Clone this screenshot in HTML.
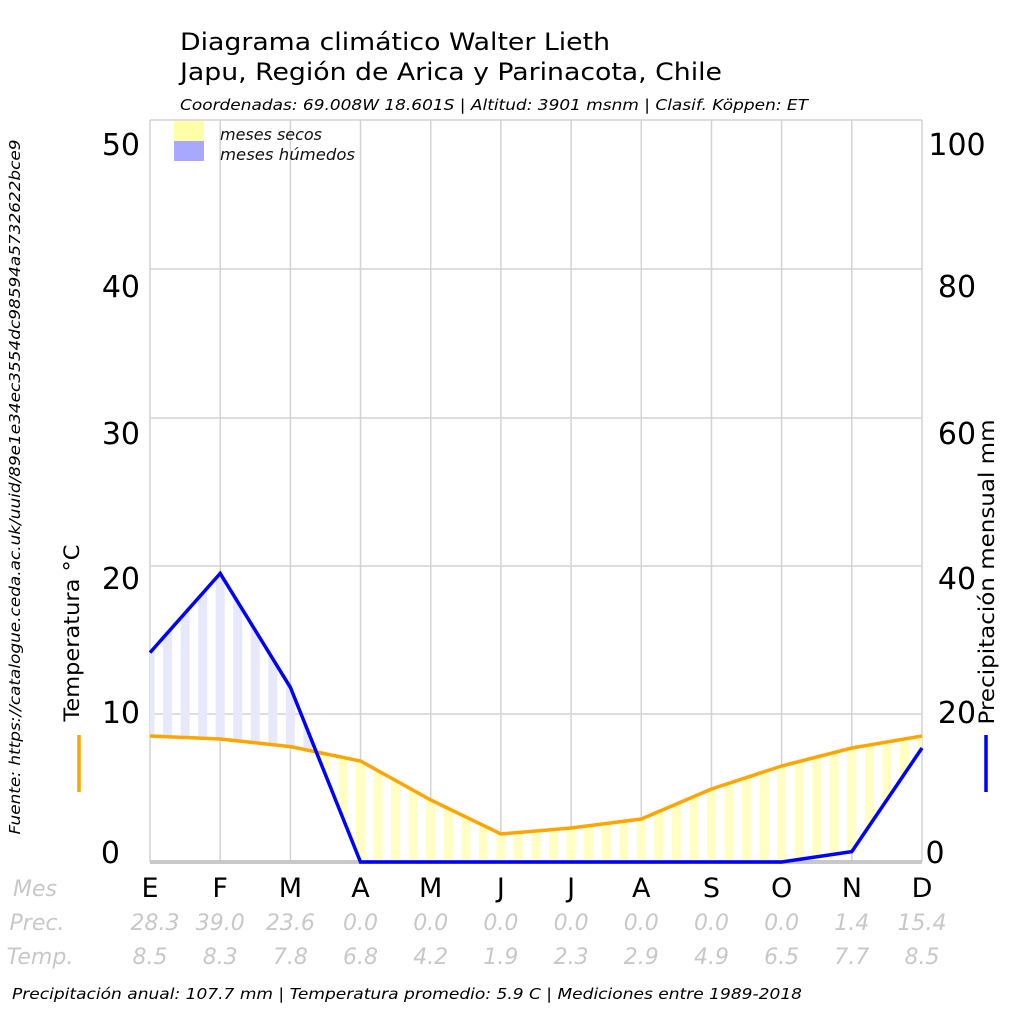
<!DOCTYPE html><html><head><meta charset="utf-8"><style>
body{margin:0;background:#fff}
svg text{font-family:"DejaVu Sans","Liberation Sans",sans-serif}
</style></head><body>
<svg width="1024" height="1024" viewBox="0 0 1024 1024" xmlns="http://www.w3.org/2000/svg">
<defs>
<pattern id="pb" patternUnits="userSpaceOnUse" x="145.5" y="0" width="17.545" height="1024"><rect width="9" height="1024" fill="#e8e8fb"/></pattern>
<pattern id="py" patternUnits="userSpaceOnUse" x="145.5" y="0" width="17.545" height="1024"><rect width="9" height="1024" fill="#ffffc4"/></pattern>
<clipPath id="above"><polygon points="150,120 150,736 220.2,739 290.4,746.6 360.5,761 430.7,800 500.9,834 571.1,828 641.3,819 711.5,789 781.6,766 851.8,748 922,736 922,120"/></clipPath>
<clipPath id="below"><polygon points="150,870 150,736 220.2,739 290.4,746.6 360.5,761 430.7,800 500.9,834 571.1,828 641.3,819 711.5,789 781.6,766 851.8,748 922,736 922,870"/></clipPath>
</defs>
<g stroke="#d3d3d3" stroke-width="1.5">
<line x1="150" y1="120" x2="922" y2="120"/><line x1="150" y1="269" x2="922" y2="269"/><line x1="150" y1="418" x2="922" y2="418"/><line x1="150" y1="566" x2="922" y2="566"/><line x1="150" y1="714" x2="922" y2="714"/>
<line x1="150" y1="120" x2="150" y2="862"/><line x1="220.2" y1="120" x2="220.2" y2="862"/><line x1="290.4" y1="120" x2="290.4" y2="862"/><line x1="360.5" y1="120" x2="360.5" y2="862"/><line x1="430.7" y1="120" x2="430.7" y2="862"/><line x1="500.9" y1="120" x2="500.9" y2="862"/><line x1="571.1" y1="120" x2="571.1" y2="862"/><line x1="641.3" y1="120" x2="641.3" y2="862"/><line x1="711.5" y1="120" x2="711.5" y2="862"/><line x1="781.6" y1="120" x2="781.6" y2="862"/><line x1="851.8" y1="120" x2="851.8" y2="862"/><line x1="922" y1="120" x2="922" y2="862"/>
</g>
<g>
<polygon points="150,652.6 220.2,573.4 290.4,687.4 360.5,862 430.7,862 500.9,862 571.1,862 641.3,862 711.5,862 781.6,862 851.8,851.6 922,748 922,736 851.8,748 781.6,766 711.5,789 641.3,819 571.1,828 500.9,834 430.7,800 360.5,761 290.4,746.6 220.2,739 150,736" fill="url(#pb)" clip-path="url(#above)"/>
<polygon points="150,652.6 220.2,573.4 290.4,687.4 360.5,862 430.7,862 500.9,862 571.1,862 641.3,862 711.5,862 781.6,862 851.8,851.6 922,748 922,736 851.8,748 781.6,766 711.5,789 641.3,819 571.1,828 500.9,834 430.7,800 360.5,761 290.4,746.6 220.2,739 150,736" fill="url(#py)" clip-path="url(#below)"/>
</g>
<line x1="150" y1="862" x2="922" y2="862" stroke="#c8c8c8" stroke-width="4"/>
<polyline points="150,736 220.2,739 290.4,746.6 360.5,761 430.7,800 500.9,834 571.1,828 641.3,819 711.5,789 781.6,766 851.8,748 922,736" fill="none" stroke="#ffa500" stroke-width="3.5"/>
<polyline points="150,652.6 220.2,573.4 290.4,687.4 360.5,862 430.7,862 500.9,862 571.1,862 641.3,862 711.5,862 781.6,862 851.8,851.6 922,748" fill="none" stroke="#0000ff" stroke-width="3.5"/>
<rect x="174" y="121" width="30" height="20" fill="#ffffa8"/>
<rect x="174" y="141" width="30" height="20" fill="#a8a8ff"/>
<g font-style="italic" font-size="16" fill="#111"><text x="220" y="140" textLength="102" lengthAdjust="spacingAndGlyphs">meses secos</text><text x="220" y="160" textLength="135" lengthAdjust="spacingAndGlyphs">meses húmedos</text></g>
<g font-size="24" fill="#000"><text x="180" y="50" textLength="430" lengthAdjust="spacingAndGlyphs">Diagrama climático Walter Lieth</text><text x="180" y="80" textLength="542" lengthAdjust="spacingAndGlyphs">Japu, Región de Arica y Parinacota, Chile</text></g>
<text x="180" y="110" font-size="15" font-style="italic" textLength="628" lengthAdjust="spacingAndGlyphs">Coordenadas: 69.008W 18.601S | Altitud: 3901 msnm | Clasif. Köppen: ET</text>
<g font-size="30" text-anchor="end" fill="#000"><text x="140" y="155">50</text><text x="140" y="297">40</text><text x="140" y="444">30</text><text x="140" y="589">20</text><text x="140" y="723">10</text><text x="120" y="863">0</text></g>
<g font-size="30" text-anchor="middle" fill="#000"><text x="957" y="155">100</text><text x="957" y="297">80</text><text x="957" y="444">60</text><text x="957" y="589">40</text><text x="957" y="723">20</text><text x="935" y="863">0</text></g>
<g font-size="27" text-anchor="middle" fill="#000"><text x="150" y="897">E</text><text x="220.2" y="897">F</text><text x="290.4" y="897">M</text><text x="360.5" y="897">A</text><text x="430.7" y="897">M</text><text x="500.9" y="897">J</text><text x="571.1" y="897">J</text><text x="641.3" y="897">A</text><text x="711.5" y="897">S</text><text x="781.6" y="897">O</text><text x="851.8" y="897">N</text><text x="922" y="897">D</text></g>
<g font-size="22" font-style="italic" fill="#c8c8c8" text-anchor="middle">
<text x="35" y="896">Mes</text><text x="37" y="930">Prec.</text><text x="40" y="964">Temp.</text>
<text x="155" y="930">28.3</text><text x="220.2" y="930">39.0</text><text x="290.4" y="930">23.6</text><text x="360.5" y="930">0.0</text><text x="430.7" y="930">0.0</text><text x="500.9" y="930">0.0</text><text x="571.1" y="930">0.0</text><text x="641.3" y="930">0.0</text><text x="711.5" y="930">0.0</text><text x="781.6" y="930">0.0</text><text x="851.8" y="930">1.4</text><text x="922" y="930">15.4</text>
<text x="150" y="964">8.5</text><text x="220.2" y="964">8.3</text><text x="290.4" y="964">7.8</text><text x="360.5" y="964">6.8</text><text x="430.7" y="964">4.2</text><text x="500.9" y="964">1.9</text><text x="571.1" y="964">2.3</text><text x="641.3" y="964">2.9</text><text x="711.5" y="964">4.9</text><text x="781.6" y="964">6.5</text><text x="851.8" y="964">7.7</text><text x="922" y="964">8.5</text>
</g>
<text x="12" y="999" font-size="15" font-style="italic" textLength="790" lengthAdjust="spacingAndGlyphs">Precipitación anual: 107.7 mm | Temperatura promedio: 5.9 C | Mediciones entre 1989-2018</text>
<text transform="translate(20,487) rotate(-90)" text-anchor="middle" font-size="15" font-style="italic" textLength="695" lengthAdjust="spacingAndGlyphs">Fuente: https://catalogue.ceda.ac.uk/uuid/89e1e34ec3554dc98594a5732622bce9</text>
<text transform="translate(79,633) rotate(-90)" text-anchor="middle" font-size="21" textLength="177" lengthAdjust="spacingAndGlyphs">Temperatura °C</text>
<line x1="79" y1="735" x2="79" y2="792" stroke="#ffa500" stroke-width="3.5"/>
<text transform="translate(994,572) rotate(-90)" text-anchor="middle" font-size="21" textLength="305" lengthAdjust="spacingAndGlyphs">Precipitación mensual mm</text>
<line x1="986" y1="735" x2="986" y2="792" stroke="#0000ff" stroke-width="3.5"/>
</svg>
</body></html>
